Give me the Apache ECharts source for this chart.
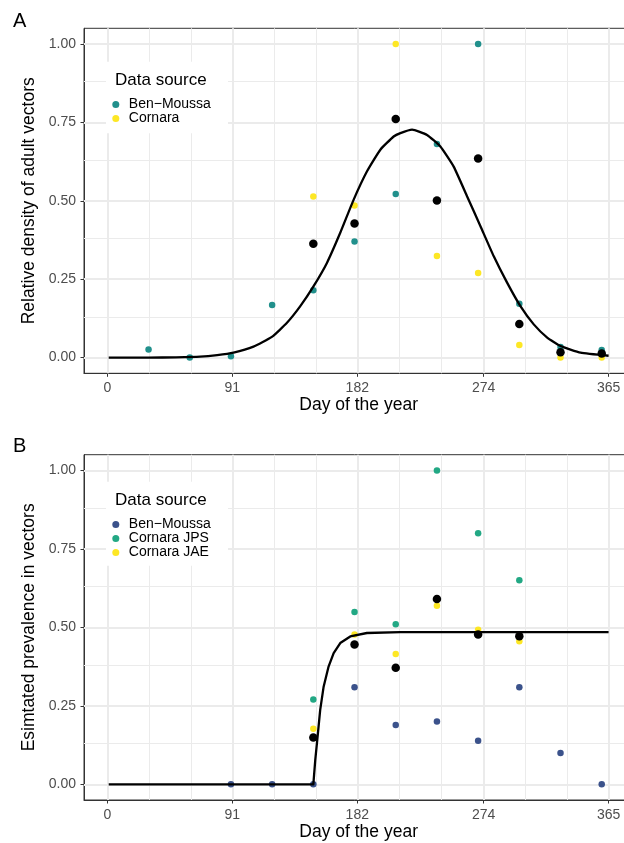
<!doctype html>
<html lang="en">
<head>
    <meta charset="utf-8">
    <title>vector density and prevalence</title>
    <script src="https://cdn.jsdelivr.net/npm/echarts@6/dist/echarts.min.js"></script>
</head>
<body style="margin:0;">
<div id="chart" style="width:624px;height:843px;"></div>
<script>

var FONT = 'Liberation Sans, Arial, sans-serif';

// panel A : relative density of adult vectors
var aBenMoussaDays = [30, 60, 90, 120, 150, 180, 210, 240, 270, 300, 330, 360];
var aBenMoussa = [0.026, 0.0, 0.004, 0.168, 0.215, 0.370, 0.522, 0.681, 1.0, 0.172, 0.034, 0.024];
var aCornaraDays = [150, 180, 210, 240, 270, 300, 330, 360];
var aCornara = [0.514, 0.485, 1.0, 0.324, 0.270, 0.040, 0.0, 0.0];
var aMean = [0.363, 0.428, 0.761, 0.501, 0.635, 0.107, 0.017, 0.013];
var aCurveDays = [1, 30, 50, 67.6, 80, 91.9, 106.4, 119.8, 130.8, 140.5, 150.2, 159.9, 169.6, 179.3, 189.1,
    198.8, 208.5, 213.4, 221.9, 232.8, 242.5, 252.2, 262, 271.7, 281.4, 291.1, 300.8, 310.5, 320.3, 330, 344.6, 365];
var aCurve = [0, 0, 0.001, 0.003, 0.008, 0.016, 0.035, 0.066, 0.111, 0.164, 0.228, 0.302, 0.398, 0.503, 0.594,
    0.663, 0.705, 0.716, 0.727, 0.710, 0.673, 0.609, 0.514, 0.419, 0.323, 0.239, 0.164, 0.106, 0.064, 0.037, 0.016, 0.006];

// panel B : estimated prevalence in vectors
var bBenMoussaDays = [90, 120, 150, 180, 210, 240, 270, 300, 330, 360];
var bBenMoussa = [0, 0, 0, 0.309, 0.189, 0.200, 0.139, 0.309, 0.100, 0];
var bCornaraDays = [150, 180, 210, 240, 270, 300];
var bCornaraJPS = [0.270, 0.549, 0.510, 1.0, 0.800, 0.650];
var bCornaraJAE = [0.177, 0.477, 0.415, 0.569, 0.492, 0.456];
var bMean = [0.149, 0.445, 0.371, 0.590, 0.477, 0.472];
var bCurveDays = [1, 150, 151.4, 153.1, 155, 157.5, 161.1, 164.8, 169.6, 176.9, 189, 213.4, 365];
var bCurve = [0, 0, 0.077, 0.152, 0.237, 0.311, 0.375, 0.418, 0.450, 0.471, 0.482, 0.485, 0.485];

// axis breaks
var xTicks = [0, 91, 182, 274, 365];
var xMinorGrid = [30.42, 60.83, 121.67, 152.08, 212.92, 243.33, 304.17, 334.58];
var yTicks = [0, 0.25, 0.5, 0.75, 1];
var yMinorGrid = [0.125, 0.375, 0.625, 0.875];

function pairs(xs, ys) {
    return xs.map(function (x, i) { return [x, ys[i]]; });
}

function gridLines(i) {
    var lines = [];
    xTicks.forEach(function (v) { lines.push({xAxis: v, lineStyle: {color: '#EBEBEB', width: 2, type: 'solid'}}); });
    xMinorGrid.forEach(function (v) { lines.push({xAxis: v, lineStyle: {color: '#EBEBEB', width: 1, type: 'solid'}}); });
    yTicks.forEach(function (v) { lines.push({yAxis: v, lineStyle: {color: '#EBEBEB', width: 2, type: 'solid'}}); });
    yMinorGrid.forEach(function (v) { lines.push({yAxis: v, lineStyle: {color: '#EBEBEB', width: 1, type: 'solid'}}); });
    return {
        type: 'line', xAxisIndex: i, yAxisIndex: i, data: [], z: 1, silent: true,
        markLine: {z: 1, silent: true, symbol: ['none', 'none'], label: {show: false},
            emphasis: {disabled: true}, data: lines}
    };
}

function xAxisFor(i) {
    return {
        gridIndex: i, type: 'value', min: -17, max: 383,
        axisLine: {show: true, onZero: false, lineStyle: {color: '#333333', width: 1}},
        axisTick: {show: true, customValues: xTicks, length: 3.5, lineStyle: {color: '#333333'}},
        axisLabel: {customValues: xTicks, margin: 8, color: '#4D4D4D', fontSize: 14, fontFamily: FONT},
        splitLine: {show: false},
        name: 'Day of the year', nameLocation: 'middle', nameGap: 23,
        nameTextStyle: {fontSize: 17.5, color: '#000', fontFamily: FONT}
    };
}

function yAxisFor(i, title) {
    return {
        gridIndex: i, type: 'value', min: -0.05, max: 1.05,
        axisLine: {show: true, onZero: false, lineStyle: {color: '#333333', width: 1}},
        axisTick: {show: true, customValues: yTicks, length: 3.5, lineStyle: {color: '#333333'}},
        axisLabel: {customValues: yTicks, margin: 8, color: '#4D4D4D', fontSize: 14, fontFamily: FONT,
            formatter: function (v) { return v.toFixed(2); }},
        splitLine: {show: false},
        name: title, nameLocation: 'middle', nameRotate: 90, nameGap: 40,
        nameTextStyle: {fontSize: 17.5, color: '#000', fontFamily: FONT}
    };
}

function dots(name, i, data, color, size, z) {
    return {
        name: name, type: 'scatter', xAxisIndex: i, yAxisIndex: i, data: data, z: z,
        symbolSize: size, itemStyle: {color: color, opacity: 1}
    };
}

function curve(i, data, smooth) {
    return {
        type: 'line', xAxisIndex: i, yAxisIndex: i, data: data, z: 4, showSymbol: false,
        smooth: smooth, lineStyle: {color: '#000', width: 2.3, join: 'round'}
    };
}

function legendFor(top, items) {
    return {
        data: items, orient: 'vertical', left: 112.3, top: top, padding: 0,
        itemWidth: 16, itemHeight: 7, itemGap: 0, icon: 'circle', selectedMode: false, z: 12,
        textStyle: {fontSize: 14, lineHeight: 13.3, color: '#000', fontFamily: FONT}
    };
}

function legendBox(y, h, titleY) {
    return [
        {type: 'rect', z: 10, shape: {x: 106, y: y, width: 122, height: h}, style: {fill: '#fff'}},
        {type: 'text', z: 11, x: 115, y: titleY,
            style: {text: 'Data source', fontSize: 17, fontFamily: FONT, fill: '#000', verticalAlign: 'middle'}}
    ];
}

var grayTeal = '#21908C', yellow = '#FDE725', blue = '#3B528B', green = '#22A884';

var chart = echarts.init(document.getElementById('chart'), null, {renderer: 'canvas'});
chart.setOption({
    animation: false,
    backgroundColor: '#fff',
    grid: [
        {left: 84, top: 28.3, height: 345, width: 549.3, outerBoundsMode: 'none', containLabel: false,
            show: true, backgroundColor: '#fff', borderColor: '#333333', borderWidth: 1},
        {left: 84, top: 454.7, height: 345.3, width: 549.3, outerBoundsMode: 'none', containLabel: false,
            show: true, backgroundColor: '#fff', borderColor: '#333333', borderWidth: 1}
    ],
    xAxis: [xAxisFor(0), xAxisFor(1)],
    yAxis: [yAxisFor(0, 'Relative density of adult vectors'), yAxisFor(1, 'Esimtated prevalence in vectors')],
    legend: [
        legendFor(97.5, [
            {name: 'Ben\u2212Moussa', itemStyle: {color: grayTeal}},
            {name: 'Cornara', itemStyle: {color: yellow}}
        ]),
        legendFor(517.5, [
            {name: 'Ben\u2212Moussa', itemStyle: {color: blue}},
            {name: 'Cornara JPS', itemStyle: {color: green}},
            {name: 'Cornara JAE', itemStyle: {color: yellow}}
        ])
    ],
    graphic: legendBox(61.7, 71.6, 80.3).concat(legendBox(481.7, 84, 500.3)).concat([
        {type: 'text', x: 13, y: 21, style: {text: 'A', fontSize: 20, fontFamily: FONT, fill: '#000', verticalAlign: 'middle'}},
        {type: 'text', x: 13, y: 446, style: {text: 'B', fontSize: 20, fontFamily: FONT, fill: '#000', verticalAlign: 'middle'}}
    ]),
    series: [
        gridLines(0),
        gridLines(1),
        dots('Ben\u2212Moussa', 0, pairs(aBenMoussaDays, aBenMoussa), grayTeal, 6.5, 3),
        dots('Cornara', 0, pairs(aCornaraDays, aCornara), yellow, 6.5, 3),
        curve(0, pairs(aCurveDays, aCurve), 0.15),
        dots('Mean A', 0, pairs(aCornaraDays, aMean), '#000', 8.5, 5),
        dots('Ben\u2212Moussa', 1, pairs(bBenMoussaDays, bBenMoussa), blue, 6.5, 3),
        dots('Cornara JPS', 1, pairs(bCornaraDays, bCornaraJPS), green, 6.5, 3),
        dots('Cornara JAE', 1, pairs(bCornaraDays, bCornaraJAE), yellow, 6.5, 3),
        curve(1, pairs(bCurveDays, bCurve), false),
        dots('Mean B', 1, pairs(bCornaraDays, bMean), '#000', 8.5, 5)
    ]
});

</script>
</body>
</html>
